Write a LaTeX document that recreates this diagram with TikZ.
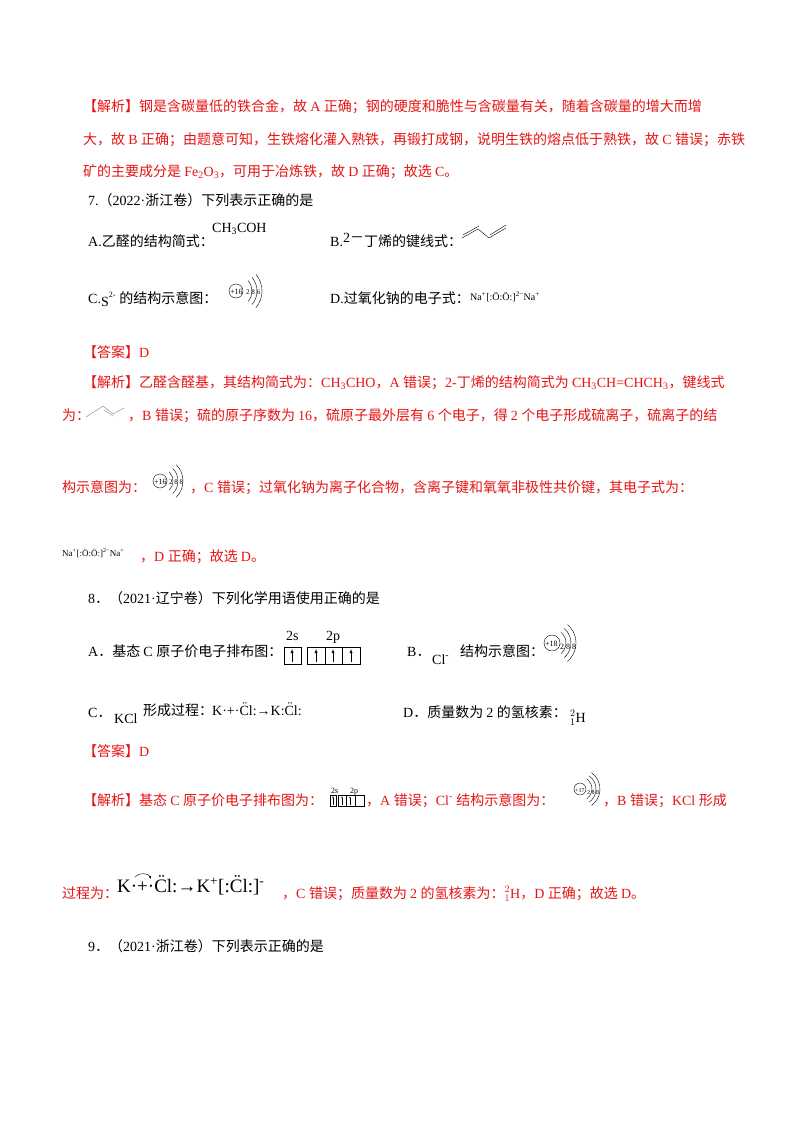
\documentclass[tikz,border=0pt]{standalone}
\usepackage{fontspec}
\usetikzlibrary{arrows.meta}
\setmainfont{Liberation Serif}
\newfontfamily\cjk{Noto Sans CJK SC}
\XeTeXinterchartokenstate=1
\newXeTeXintercharclass\CJKcls
\makeatletter
\count@="3000
\loop \XeTeXcharclass\count@=\CJKcls \ifnum\count@<"9FFF \advance\count@ 1 \repeat
\count@="FF00
\loop \XeTeXcharclass\count@=\CJKcls \ifnum\count@<"FFEF \advance\count@ 1 \repeat
\makeatother
\XeTeXinterchartoks 0 \CJKcls = {\cjk}
\XeTeXinterchartoks 4095 \CJKcls = {\cjk}
\XeTeXinterchartoks \CJKcls 0 = {\rmfamily}
\XeTeXinterchartoks 4095 0 = {\rmfamily}
\definecolor{red1}{RGB}{230,20,20}
\tikzset{t/.style={anchor=base west,inner sep=0pt,font=\fontsize{14}{16}\selectfont},
 r/.style={t,text=red1}, sm/.style={anchor=base west,inner sep=0pt,font=\fontsize{8}{9}\selectfont}}
\begin{document}
\begin{tikzpicture}[x=1pt,y=-1pt]
\useasboundingbox[fill=white] (0,0) rectangle (800,1132);
\node[r] (l1) at (83,111) {【解析】钢是含碳量低的铁合金，故 A 正确；钢的硬度和脆性与含碳量有关，随着含碳量的增大而增};
\node[r] (l2) at (83,144) {大，故 B 正确；由题意可知，生铁熔化灌入熟铁，再锻打成钢，说明生铁的熔点低于熟铁，故 C 错误；赤铁};
\node[r] (l3) at (83,176) {矿的主要成分是 Fe\textsubscript{2}O\textsubscript{3}，可用于冶炼铁，故 D 正确；故选 C。};
\node[t] (q7) at (88,205) {7.（2022·浙江卷）下列表示正确的是};
\node[t] (q7a) at (88,246) {A.乙醛的结构简式：};
\node[t] (q7af) at (212,232) {CH\textsubscript{3}COH};
\node[t] (q7b) at (330,246) {B.\raisebox{4pt}{2－}丁烯的键线式：};
\draw (462,238) -- (478,229) (463,235) -- (479,226) (478,229) -- (489,238) -- (506,228) (490,235)--(506,225);
\node[t] (q7c) at (88,303) {C.\raisebox{-3pt}{S}\textsuperscript{\fontsize{8}{8}\selectfont 2-} 的结构示意图：};
\draw (236,291) circle (7);
\node[sm] at (230,294) {+16};
\node[sm,font=\fontsize{7}{8}\selectfont] at (246,294) {2 8 6};
\foreach \r in {16,21,26} \draw (236,291) ++(-40:\r) arc (-40:40:\r);
\node[t] (q7d) at (330,303) {D.过氧化钠的电子式：};
\node[sm,font=\fontsize{10}{10}\selectfont] at (470,300) {Na\textsuperscript{+}[:Ö:Ö:]\textsuperscript{2−}Na\textsuperscript{+}};
\node[r] (a7) at (83,357) {【答案】D};
\node[r] (j7) at (83,387) {【解析】乙醛含醛基，其结构简式为：CH\textsubscript{3}CHO，A 错误；2-丁烯的结构简式为 CH\textsubscript{3}CH=CHCH\textsubscript{3}，键线式};
\node[r] (j7b) at (62,420) {为：};
\draw[gray] (86,417) -- (103,406) -- (113,414) -- (124,408) (104,410)--(113,416);
\node[r] (j7c) at (128,420) {，B 错误；硫的原子序数为 16，硫原子最外层有 6 个电子，得 2 个电子形成硫离子，硫离子的结};
\node[r] (j7d) at (62,492) {构示意图为：};
\draw (160,481) circle (7);
\node[sm] at (154,484) {+16};
\node[sm,font=\fontsize{7}{8}\selectfont] at (169,484) {2 8 8};
\foreach \r in {13,18,23} \draw (160,481) ++(-45:\r) arc (-45:45:\r);
\node[r] (j7e) at (190,492) {，C 错误；过氧化钠为离子化合物，含离子键和氧氧非极性共价键，其电子式为：};
\node[sm,font=\fontsize{9}{9}\selectfont] at (62,556) {Na\textsuperscript{+}[:Ö:Ö:]\textsuperscript{2−}Na\textsuperscript{+}};
\node[r] (j7f) at (140,561) {，D 正确；故选 D。};
\node[t] (q8) at (88,603) {8．（2021·辽宁卷）下列化学用语使用正确的是};
\node[t] (q8a) at (88,656) {A．基态 C 原子价电子排布图：};
\node[t] at (286,640) {2s};
\node[t] at (326,640) {2p};
\draw (284,647) rectangle (301,664);
\draw (307,647) rectangle (360,664) (325,647)--(325,664) (342,647)--(342,664);
\foreach \x in {292,316,333,351} \draw[-latex] (\x,662) -- (\x,649);
\node[t] (q8b) at (407,656) {B．};
\node[t] at (432,664) {Cl\textsuperscript{-}};
\node[t] at (460,656) {结构示意图：};
\draw (552,643) circle (8);
\node[sm] at (545,646) {+18};
\node[sm] at (560,649) {2 8 8};
\foreach \r in {14,19,24} \draw (552,643) ++(-50:\r) arc (-50:50:\r);
\node[t] (q8c) at (88,717) {C．};
\node[t] at (114,723) {KCl};
\node[t] at (143,715) {形成过程：};
\node[t] at (212,715) {K·+·C̈l:→K:C̈l:};
\node[t] (q8d) at (403,717) {D．质量数为 2 的氢核素：};
\node[t] at (570,722) {$^{2}_{1}$H};
\node[r] (a8) at (83,756) {【答案】D};
\node[r] (j8) at (83,805) {【解析】基态 C 原子价电子排布图为：};
\node[sm] at (331,793) {2s};
\node[sm] at (350,793) {2p};
\draw (330,795) rectangle (336,806) (338,795) rectangle (364,806) (346,795)--(346,806) (355,795)--(355,806);
\foreach \x in {333,342,350} \draw[-{Latex[length=2pt]}] (\x,805) -- (\x,796);
\node[r] at (366,805) {，A 错误；Cl\textsuperscript{-} 结构示意图为：};
\draw (580,789) circle (6);
\node[sm,font=\fontsize{6}{6}\selectfont] at (575,792) {+17};
\node[sm,font=\fontsize{6}{6}\selectfont] at (587,794) {2 8 8};
\foreach \r in {12,16,20} \draw (580,789) ++(-55:\r) arc (-55:55:\r);
\node[r] at (603,805) {，B 错误；KCl 形成};
\node[r] (j8b) at (62,898) {过程为：};
\node[t,font=\fontsize{19}{20}\selectfont] (kcl) at (117,892) {K·+·C̈l:→K\textsuperscript{+}[:C̈l:]\textsuperscript{-}};
\draw[-{Latex[length=3pt]}] (135,877) to[bend left=60] (151,879);
\node[r] at (282,898) {，C 错误；质量数为 2 的氢核素为：$^{2}_{1}$H，D 正确；故选 D。};
\node[t] (q9) at (88,951) {9．（2021·浙江卷）下列表示正确的是};
\end{tikzpicture}
\end{document}
